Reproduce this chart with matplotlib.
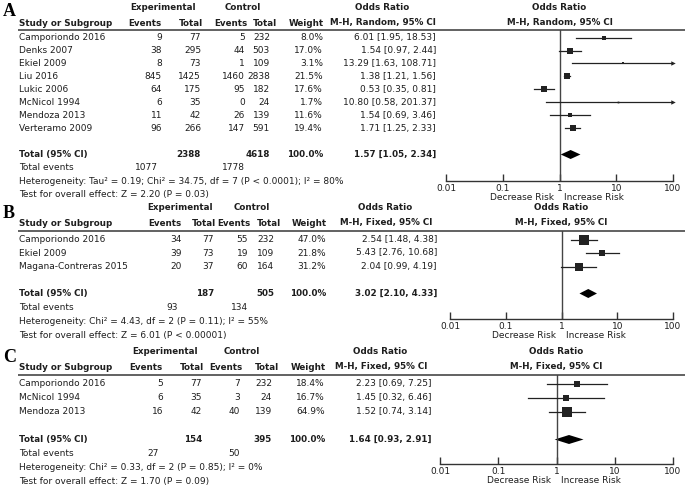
#!/usr/bin/env python3
"""Three stacked forest plots (A, B, C) redrawn in the RevMan layout."""

import matplotlib.pyplot as plt
from matplotlib.ticker import NullLocator
from matplotlib.transforms import blended_transform_factory

plt.rcParams["font.family"] = ["DejaVu Sans"]

W, H = 685, 493
FS = 6.5
FS_HEAD = 6.3
INK = "#1e1e1e"
LINE = "#555555"

# ---- panel A: M-H, Random ----
A_STUDIES = ["Camporiondo 2016", "Denks 2007", "Ekiel 2009", "Liu 2016", "Lukic 2006",
             "McNicol 1994", "Mendoza 2013", "Verteramo 2009"]
A_EXP_EVENTS = [9, 38, 8, 845, 64, 6, 11, 96]
A_EXP_TOTAL = [77, 295, 73, 1425, 175, 35, 42, 266]
A_CTRL_EVENTS = [5, 44, 1, 1460, 95, 0, 26, 147]
A_CTRL_TOTAL = [232, 503, 109, 2838, 182, 24, 139, 591]
A_WEIGHT = [8.0, 17.0, 3.1, 21.5, 17.6, 1.7, 11.6, 19.4]
A_OR = [6.01, 1.54, 13.29, 1.38, 0.53, 10.80, 1.54, 1.71]
A_LO = [1.95, 0.97, 1.63, 1.21, 0.35, 0.58, 0.69, 1.25]
A_HI = [18.53, 2.44, 108.71, 1.56, 0.81, 201.37, 3.46, 2.33]
A_TOTAL = [2388, 4618, 1.57, 1.05, 2.34]
A_EVENTS = [1077, 1778]
A_HET = "Heterogeneity: Tau² = 0.19; Chi² = 34.75, df = 7 (P < 0.0001); I² = 80%"
A_TEST = "Test for overall effect: Z = 2.20 (P = 0.03)"

# ---- panel B: M-H, Fixed ----
B_STUDIES = ["Camporiondo 2016", "Ekiel 2009", "Magana-Contreras 2015"]
B_EXP_EVENTS = [34, 39, 20]
B_EXP_TOTAL = [77, 73, 37]
B_CTRL_EVENTS = [55, 19, 60]
B_CTRL_TOTAL = [232, 109, 164]
B_WEIGHT = [47.0, 21.8, 31.2]
B_OR = [2.54, 5.43, 2.04]
B_LO = [1.48, 2.76, 0.99]
B_HI = [4.38, 10.68, 4.19]
B_TOTAL = [187, 505, 3.02, 2.10, 4.33]
B_EVENTS = [93, 134]
B_HET = "Heterogeneity: Chi² = 4.43, df = 2 (P = 0.11); I² = 55%"
B_TEST = "Test for overall effect: Z = 6.01 (P < 0.00001)"

# ---- panel C: M-H, Fixed ----
C_STUDIES = ["Camporiondo 2016", "McNicol 1994", "Mendoza 2013"]
C_EXP_EVENTS = [5, 6, 16]
C_EXP_TOTAL = [77, 35, 42]
C_CTRL_EVENTS = [7, 3, 40]
C_CTRL_TOTAL = [232, 24, 139]
C_WEIGHT = [18.4, 16.7, 64.9]
C_OR = [2.23, 1.45, 1.52]
C_LO = [0.69, 0.32, 0.74]
C_HI = [7.25, 6.46, 3.14]
C_TOTAL = [154, 395, 1.64, 0.93, 2.91]
C_EVENTS = [27, 50]
C_HET = "Heterogeneity: Chi² = 0.33, df = 2 (P = 0.85); I² = 0%"
C_TEST = "Test for overall effect: Z = 1.70 (P = 0.09)"

TICKS = [0.01, 0.1, 1, 10, 100]
TICK_LABELS = ["0.01", "0.1", "1", "10", "100"]

# pixel layout (y measured from the top of the image)
LAY_A = dict(letter=11, h1=7, h2=23, line=30, row0=37.5, step=13.0, foot=13.5, axis=181,
             x0=446, x1=673, ev1=162, tot1=201, ev2=245, tot2=270, wt=323, ci=436,
             exp=163, ctl=243, orc=382)
LAY_B = dict(letter=213, h1=208, h2=223, line=231, row0=239.5, step=13.5, foot=14, axis=319,
             x0=450, x1=673, ev1=182, tot1=214, ev2=248, tot2=274, wt=326, ci=437,
             exp=180, ctl=252, orc=385)
LAY_C = dict(letter=357, h1=351, h2=367, line=375, row0=383.5, step=14.0, foot=14, axis=464,
             x0=440, x1=673, ev1=163, tot1=202, ev2=240, tot2=272, wt=325, ci=432,
             exp=165, ctl=242, orc=380)

fig = plt.figure(figsize=(W / 100, H / 100), dpi=100)
base = fig.add_axes([0, 0, 1, 1])
base.set_xlim(0, W)
base.set_ylim(H, 0)
base.axis("off")


def txt(x, y, s, ha="left", bold=False, ax=None, trans=None):
    ax = ax or base
    kw = dict(transform=trans) if trans is not None else {}
    ax.text(x, y, s, ha=ha, va="center", fontsize=FS_HEAD if bold else FS, color=INK,
            fontweight="bold" if bold else "normal", **kw)


def draw_panel(letter, lay, method, studies, ev1, tot1, ev2, tot2, wts, ors, los, his,
               total, events, het, test):
    n = len(studies)
    rows = [lay["row0"] + i * lay["step"] for i in range(n)]
    y_tot = lay["row0"] + (n + 1) * lay["step"]

    base.text(3, lay["letter"], letter, fontsize=13, fontweight="bold",
              family="Liberation Serif", va="center", color="black")

    # header
    txt(lay["exp"], lay["h1"], "Experimental", ha="center", bold=True)
    txt(lay["ctl"], lay["h1"], "Control", ha="center", bold=True)
    txt(lay["orc"], lay["h1"], "Odds Ratio", ha="center", bold=True)
    txt(19, lay["h2"], "Study or Subgroup", bold=True)
    txt(lay["ev1"], lay["h2"], "Events", ha="right", bold=True)
    txt(lay["tot1"] + 2, lay["h2"], "Total", ha="right", bold=True)
    txt(lay["ev2"] + 3, lay["h2"], "Events", ha="right", bold=True)
    txt(lay["tot2"] + 7, lay["h2"], "Total", ha="right", bold=True)
    txt(lay["wt"] + 1, lay["h2"], "Weight", ha="right", bold=True)
    txt(lay["orc"] + 1, lay["h2"], method, ha="center", bold=True)
    base.plot([18, W], [lay["line"], lay["line"]], color=LINE, lw=1.3, solid_capstyle="butt")

    # study rows
    for y, s, a, b, c, d, w, o, lo, hi in zip(rows, studies, ev1, tot1, ev2, tot2, wts, ors, los, his):
        txt(19, y, s)
        txt(lay["ev1"], y, str(a), ha="right")
        txt(lay["tot1"], y, str(b), ha="right")
        txt(lay["ev2"], y, str(c), ha="right")
        txt(lay["tot2"], y, str(d), ha="right")
        txt(lay["wt"], y, f"{w:.1f}%", ha="right")
        txt(lay["ci"], y, f"{o:.2f} [{lo:.2f}, {hi:.2f}]", ha="right")

    # total rows
    t1, t2, to, tlo, thi = total
    txt(19, y_tot, "Total (95% CI)", bold=True)
    txt(lay["tot1"], y_tot, str(t1), ha="right", bold=True)
    txt(lay["tot2"], y_tot, str(t2), ha="right", bold=True)
    txt(lay["wt"], y_tot, "100.0%", ha="right", bold=True)
    txt(lay["ci"], y_tot, f"{to:.2f} [{tlo:.2f}, {thi:.2f}]", ha="right", bold=True)
    y_ev = y_tot + lay["foot"]
    txt(19, y_ev, "Total events")
    txt(lay["ev1"] - 4, y_ev, str(events[0]), ha="right")
    txt(lay["ev2"], y_ev, str(events[1]), ha="right")
    txt(19, y_ev + lay["foot"], het)
    txt(19, y_ev + 2 * lay["foot"], test)

    # forest
    fax = fig.add_axes([lay["x0"] / W, 1 - lay["axis"] / H,
                        (lay["x1"] - lay["x0"]) / W, (lay["axis"] - lay["line"]) / H])
    fax.patch.set_visible(False)
    fax.set_xscale("log")
    fax.set_xlim(0.01, 100)
    fax.set_ylim((lay["axis"] - lay["row0"]) / lay["step"], (lay["line"] - lay["row0"]) / lay["step"])
    for side in ("top", "left", "right"):
        fax.spines[side].set_visible(False)
    fax.spines["bottom"].set_color("#333333")
    fax.spines["bottom"].set_linewidth(1.0)
    fax.set_xticks(TICKS)
    fax.set_xticklabels(TICK_LABELS)
    fax.xaxis.set_minor_locator(NullLocator())
    fax.set_yticks([])
    fax.tick_params(axis="x", direction="in", length=5, width=1, color="#333333",
                    labelsize=FS, labelcolor=INK, pad=2)
    fax.axvline(1, color="#444444", lw=1.0)

    for i, (w, o, lo, hi) in enumerate(zip(wts, ors, los, his)):
        fax.plot([lo, hi], [i, i], color="#222222", lw=0.9)
        side_px = 1.35 * (w ** 0.5)
        fax.plot([o], [i], marker="s", ms=side_px * 0.72, color="#222222", mec="#222222", mew=0)
        if hi > fax.get_xlim()[1]:
            fax.plot([fax.get_xlim()[1]], [i], marker=">", ms=3.2, color="#222222",
                     mew=0, clip_on=False)
    hh = 4.5 / lay["step"]
    fax.fill([tlo, to, thi, to], [n + 1, n + 1 - hh, n + 1, n + 1 + hh], color="black", lw=0)

    tr = blended_transform_factory(fax.transData, base.transData)
    txt(1, lay["h1"], "Odds Ratio", ha="center", bold=True, trans=tr)
    txt(1, lay["h2"], method, ha="center", bold=True, trans=tr)
    fax.annotate("Decrease Risk", xy=(1, 0), xycoords=fax.get_xaxis_transform(),
                 xytext=(-4, -12), textcoords="offset points", ha="right", va="center",
                 fontsize=FS, color=INK)
    fax.annotate("Increase Risk", xy=(1, 0), xycoords=fax.get_xaxis_transform(),
                 xytext=(3, -12), textcoords="offset points", ha="left", va="center",
                 fontsize=FS, color=INK)


draw_panel("A", LAY_A, "M-H, Random, 95% CI", A_STUDIES, A_EXP_EVENTS, A_EXP_TOTAL,
           A_CTRL_EVENTS, A_CTRL_TOTAL, A_WEIGHT, A_OR, A_LO, A_HI, A_TOTAL, A_EVENTS, A_HET, A_TEST)
draw_panel("B", LAY_B, "M-H, Fixed, 95% CI", B_STUDIES, B_EXP_EVENTS, B_EXP_TOTAL,
           B_CTRL_EVENTS, B_CTRL_TOTAL, B_WEIGHT, B_OR, B_LO, B_HI, B_TOTAL, B_EVENTS, B_HET, B_TEST)
draw_panel("C", LAY_C, "M-H, Fixed, 95% CI", C_STUDIES, C_EXP_EVENTS, C_EXP_TOTAL,
           C_CTRL_EVENTS, C_CTRL_TOTAL, C_WEIGHT, C_OR, C_LO, C_HI, C_TOTAL, C_EVENTS, C_HET, C_TEST)

fig.savefig("out.png", dpi=100, facecolor="white")
